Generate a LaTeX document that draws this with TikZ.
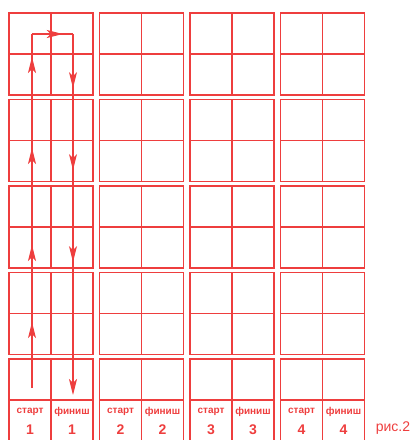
\documentclass[tikz,border=0pt]{standalone}
\usepackage{fontspec}
\setmainfont{Liberation Sans}
\usepackage{xcolor}
\usetikzlibrary{arrows.meta,decorations.markings}

\definecolor{gridred}{RGB}{238,62,62}

\tikzset{
  block/.style={draw=gridred, line width=1.8pt},
  inner/.style={draw=gridred, line width=1.4pt},
  route/.style={draw=gridred, line width=1.1pt},
  arr/.style={postaction={decorate, decoration={markings,
      mark=at position #1 with {\arrow{Stealth[length=16pt,width=8pt,inset=4pt]}}}}},
  lbl/.style={text=gridred, font=\bfseries\fontsize{10}{11}\selectfont, inner sep=0pt},
  num/.style={text=gridred, font=\bfseries\fontsize{14}{15}\selectfont, inner sep=0pt},
}

\begin{document}
\begin{tikzpicture}[x=1pt,y=-1pt]
  \useasboundingbox (0,0) rectangle (413,440);

  % Squares, four columns of five
  \foreach \i in {0,...,3}
    \foreach \j in {0,...,4} {
      \draw[block] ({9+90.5*\i},{13+86.5*\j}) rectangle ++(84,82);
      \draw[inner] ({51+90.5*\i},{13+86.5*\j}) -- ++(0,82);
      \draw[inner] ({9+90.5*\i},{54+86.5*\j}) -- ++(84,0);
    }

  % Route in the first column
  \coordinate (s1) at (32,388);
  \coordinate (t1) at (32,34);
  \coordinate (t2) at (73,34);
  \coordinate (f1) at (73,395);

  \draw[route, arr=0.186, arr=0.404, arr=0.678, arr=0.935] (s1) -- (t1);
  \draw[route, arr=0.75] (t1) -- (t2);
  \draw[route, arr=0.150, arr=0.377, arr=0.632,
        -{Stealth[length=16pt,width=8pt,inset=4pt]}] (t2) -- (f1);

  % Labels
  \foreach \i in {1,...,4} {
    \node[lbl] (st\i) at ({30+90.5*(\i-1)},412) {старт};
    \node[lbl] (fin\i) at ({72+90.5*(\i-1)},412) {финиш};
    \node[num] (ns\i) at ({30+90.5*(\i-1)},430) {\i};
    \node[num] (nf\i) at ({72+90.5*(\i-1)},430) {\i};
  }
  \node[text=gridred, font=\fontsize{14}{15}\selectfont, inner sep=0pt] (fig) at (393,428) {рис.2};
\end{tikzpicture}
\end{document}
